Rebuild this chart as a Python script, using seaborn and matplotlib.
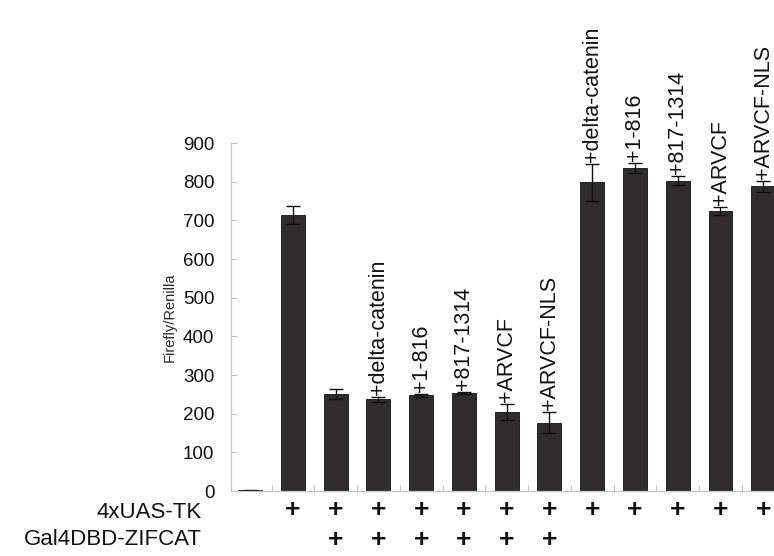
import numpy as np
import pandas as pd
import matplotlib
matplotlib.use("Agg")
import matplotlib.pyplot as plt
import seaborn as sns
from matplotlib.transforms import blended_transform_factory

# datos
conditions = ["c1", "c2", "c3", "c4", "c5", "c6", "c7",
              "c8", "c9", "c10", "c11", "c12", "c13"]
bar_labels = ["", "", "", "+delta-catenin", "+1-816", "+817-1314", "+ARVCF",
              "+ARVCF-NLS", "+delta-catenin", "+1-816", "+817-1314", "+ARVCF",
              "+ARVCF-NLS"]
ratio = [2, 714, 251, 237, 247, 254, 204, 177, 798, 835, 803, 724, 788]
ratio_err = [1, 23, 13, 6, 3, 2, 20, 27, 48, 13, 12, 10, 14]
uas_tk = ["", "+", "+", "+", "+", "+", "+", "+", "+", "+", "+", "+", "+"]
gal4_zifcat = ["", "", "+", "+", "+", "+", "+", "+", "", "", "", "", ""]
row_names = ["4xUAS-TK", "Gal4DBD-ZIFCAT"]
y_ticks = list(range(0, 1000, 100))

sns.set_theme(style="white")
plt.rcParams['font.family'] = ['Liberation Sans', 'DejaVu Sans']

df = pd.DataFrame({"cond": conditions, "ratio": ratio})

fig = plt.figure(figsize=(7.74, 5.56), dpi=100)
ax = fig.add_axes([0.2984, 0.1169, 1.0137 - 0.2984, 0.7428 - 0.1169])

sns.barplot(data=df, x="cond", y="ratio", order=conditions, color="#2e2c2c",
            saturation=1, width=0.56, edgecolor="#111111", linewidth=0.6, ax=ax)
ax.errorbar(np.arange(len(conditions)), ratio, yerr=ratio_err, fmt="none",
            ecolor="#111111", elinewidth=1.0, capsize=5, capthick=1.0)

ax.set_ylim(0, 900)
ax.set_xlim(-0.45, 12.5)
ax.set_yticks(y_ticks)
ax.set_yticklabels([str(t) for t in y_ticks], fontsize=13.5)
ax.set_xticks(np.arange(len(conditions)) + 0.5, minor=True)
ax.set_xticks([])
ax.set_xlabel("")
ax.set_ylabel("Firefly/Renilla", fontsize=10.5, labelpad=4)
ax.tick_params(axis="y", direction="in", length=4, color="#c4c4c4", width=0.8,
               left=True, pad=12, labelcolor="#111111")
ax.tick_params(axis="x", which="minor", direction="in", length=4,
               color="#c4c4c4", width=0.8, bottom=True)
for s in ["top", "right"]:
    ax.spines[s].set_visible(False)
for s in ["left", "bottom"]:
    ax.spines[s].set_color("#c4c4c4")
    ax.spines[s].set_linewidth(0.9)

# etiquetas rotadas encima de cada barra
for i, lab in enumerate(bar_labels):
    if lab:
        ax.text(i, ratio[i] + ratio_err[i] + 6, lab, rotation=90, ha="center",
                va="bottom", fontsize=15.5, color="#111111")

# filas de signos +
tr = blended_transform_factory(ax.transData, ax.transAxes)
for row, ypos in zip([uas_tk, gal4_zifcat], [-0.055, -0.141]):
    for i, s in enumerate(row):
        if s:
            ax.text(i, ypos, s, transform=tr, ha="center", va="center",
                    fontsize=19, fontweight="bold", color="#111111",
                    clip_on=False)

for name, yf in zip(row_names, [0.0791, 0.0288]):
    fig.text(0.261, yf, name, ha="right", va="center", fontsize=16,
             color="#111111")

fig.savefig("out.png", dpi=100)
